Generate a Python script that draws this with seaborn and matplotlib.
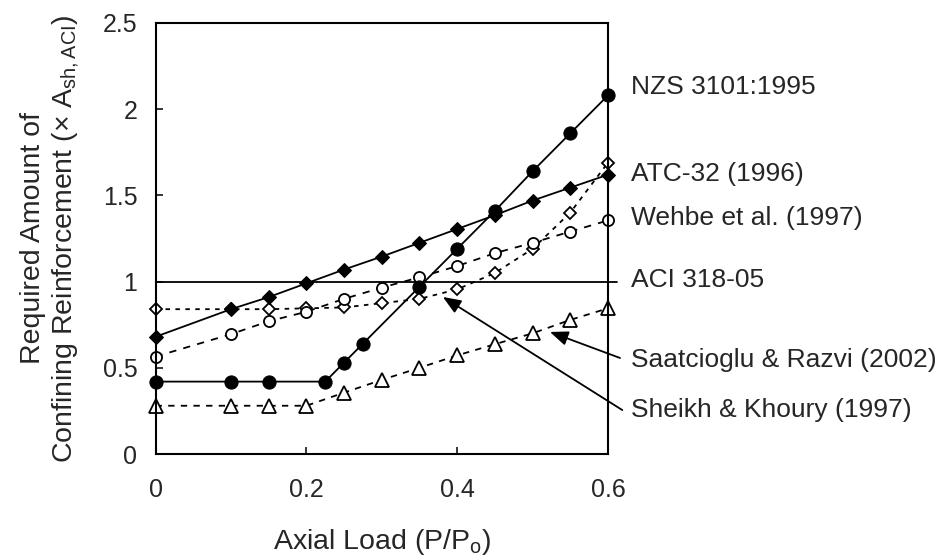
import matplotlib
matplotlib.use("Agg")
import matplotlib.pyplot as plt
import seaborn as sns

# axial load ratio P/Po
x_grid = [0, 0.1, 0.15, 0.2, 0.25, 0.3, 0.35, 0.4, 0.45, 0.5, 0.55, 0.6]
x_nzs = [0, 0.1, 0.15, 0.225, 0.25, 0.275, 0.35, 0.4, 0.45, 0.5, 0.55, 0.6]

# required confinement, multiples of A_sh,ACI
y_nzs = [0.42, 0.42, 0.42, 0.42, 0.53, 0.64, 0.97, 1.19, 1.41, 1.64, 1.86, 2.08]
y_atc = [0.68, 0.84, 0.91, 0.99, 1.07, 1.145, 1.225, 1.305, 1.385, 1.47, 1.545, 1.62]
y_wehbe = [0.565, 0.695, 0.77, 0.825, 0.9, 0.965, 1.025, 1.09, 1.165, 1.225, 1.29, 1.355]
y_sheikh = [0.84, 0.84, 0.84, 0.845, 0.85, 0.875, 0.9, 0.955, 1.05, 1.19, 1.40, 1.69]
y_saat = [0.28, 0.28, 0.28, 0.28, 0.356, 0.43, 0.5, 0.572, 0.637, 0.70, 0.778, 0.845]
y_aci = 1.0

labels = ["NZS 3101:1995", "ATC-32 (1996)", "Wehbe et al. (1997)", "ACI 318-05",
          "Saatcioglu & Razvi (2002)", "Sheikh & Khoury (1997)"]
label_y = [2.13, 1.625, 1.37, 1.01, 0.546, 0.255]


def main():
    sns.set_style("ticks")
    plt.rcParams['font.family'] = ['Liberation Sans', 'DejaVu Sans']
    plt.rcParams['mathtext.fontset'] = 'custom'
    plt.rcParams['mathtext.rm'] = 'Liberation Sans'
    plt.rcParams['mathtext.it'] = 'Liberation Sans:italic'
    plt.rcParams['mathtext.bf'] = 'Liberation Sans:bold'

    fig = plt.figure(figsize=(9.41, 5.59), dpi=100)
    ax = fig.add_axes([0.1653, 0.1878, 0.4808, 0.7711])

    ax.axhline(y_aci, xmin=0, xmax=1.02, color='black', lw=1.3, clip_on=False, zorder=1)

    common = dict(color='black', lw=1.3, ax=ax, sort=False, clip_on=False)
    sns.lineplot(x=x_grid, y=y_sheikh, marker='D', ms=6.5, mfc='white', mec='black',
                 mew=1.3, linestyle=(0, (2.5, 3)), **common)
    sns.lineplot(x=x_grid, y=y_saat, marker='^', ms=10, mfc='white', mec='black',
                 mew=1.3, linestyle=(0, (3.5, 3.5)), **common)
    sns.lineplot(x=x_grid, y=y_wehbe, marker='o', ms=8, mfc='white', mec='black',
                 mew=1.3, linestyle=(0, (4, 4)), **common)
    sns.lineplot(x=x_grid, y=y_atc, marker='D', ms=7.5, mfc='black', mec='black',
                 linestyle='-', **common)
    sns.lineplot(x=x_nzs, y=y_nzs, marker='o', ms=9.5, mfc='black', mec='black',
                 linestyle='-', **common)

    ax.set_xlim(0, 0.6)
    ax.set_ylim(0, 2.5)
    ax.set_xticks([0, 0.2, 0.4, 0.6])
    ax.set_xticklabels(['0', '0.2', '0.4', '0.6'])
    ax.set_yticks([0, 0.5, 1, 1.5, 2, 2.5])
    ax.set_yticklabels(['0', '0.5', '1', '1.5', '2', '2.5'])
    ax.tick_params(axis='x', direction='in', length=5, width=1.3, pad=17, labelsize=18)
    ax.tick_params(axis='y', direction='in', length=5, width=1.3, pad=13, labelsize=18)
    for s in ax.spines.values():
        s.set_linewidth(1.5)
        s.set_color('black')

    ax.set_xlabel("Axial Load (P/P$_\\mathrm{o}$)", fontsize=20.5)
    ax.xaxis.set_label_coords(0.5, -0.17)
    ax.set_ylabel("Required Amount of\nConfining Reinforcement (\u00d7 A$_\\mathrm{sh,ACI}$)",
                  fontsize=20.5, linespacing=1.2)
    ax.yaxis.set_label_coords(-0.165, 0.5)

    for txt, ty in zip(labels, label_y):
        ax.text(0.631, ty, txt, fontsize=19, ha='left', va='center', clip_on=False)

    arrow = dict(arrowstyle='-|>,head_length=0.55,head_width=0.22', color='black',
                 lw=1.3, mutation_scale=20, shrinkA=0, shrinkB=0)
    ax.annotate("", xy=(0.523, 0.708), xytext=(0.616, 0.557), arrowprops=arrow,
                annotation_clip=False)
    ax.annotate("", xy=(0.381, 0.911), xytext=(0.619, 0.255), arrowprops=arrow,
                annotation_clip=False)

    fig.savefig("out.png", dpi=100)


if __name__ == "__main__":
    main()
